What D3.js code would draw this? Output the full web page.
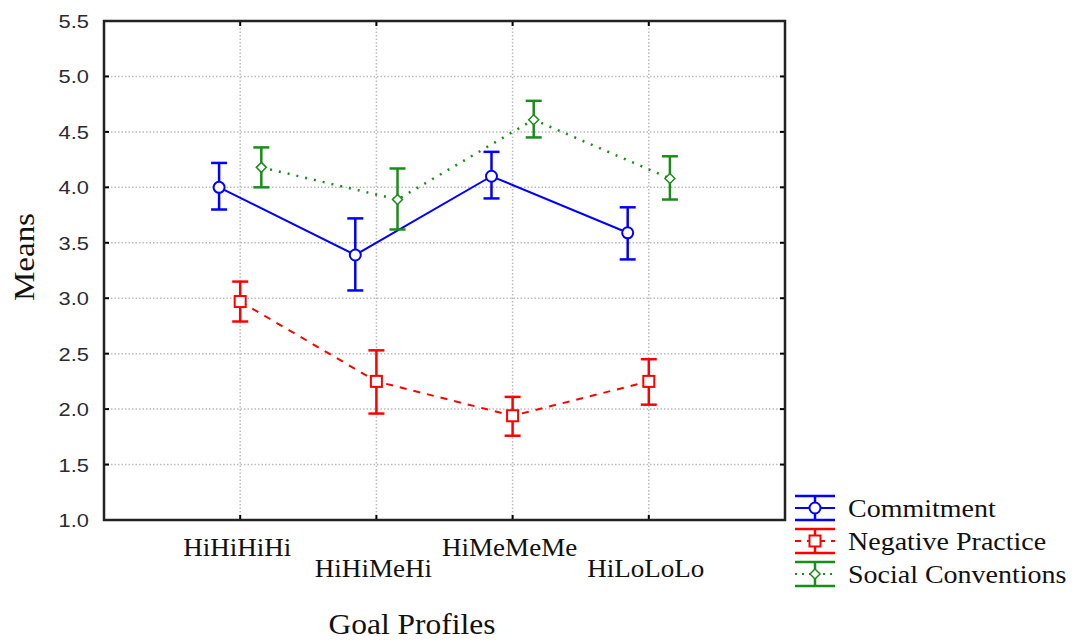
<!DOCTYPE html>
<html>
<head>
<meta charset="utf-8">
<script src="https://cdn.jsdelivr.net/npm/d3@7"></script>
<style>
  body { margin: 0; background: #fff; }
  svg { display: block; }
</style>
</head>
<body>
<svg width="1081" height="642"></svg>
<script>
const categories = ["HiHiHiHi", "HiHiMeHi", "HiMeMeMe", "HiLoLoLo"];
const seriesNames = ["Commitment", "Negative Practice", "Social Conventions"];

// means and confidence limits per category
const commitMean = [4.0, 3.39, 4.1, 3.59];
const commitLow = [3.8, 3.07, 3.9, 3.35];
const commitHigh = [4.22, 3.72, 4.32, 3.82];

const negMean = [2.97, 2.25, 1.94, 2.25];
const negLow = [2.79, 1.96, 1.76, 2.04];
const negHigh = [3.15, 2.53, 2.11, 2.45];

const socialMean = [4.18, 3.89, 4.61, 4.08];
const socialLow = [4.0, 3.62, 4.45, 3.89];
const socialHigh = [4.36, 4.17, 4.78, 4.28];

const yTicks = [1.0, 1.5, 2.0, 2.5, 3.0, 3.5, 4.0, 4.5, 5.0, 5.5];

const margin = { top: 21, right: 296, bottom: 122, left: 104 };
const width = 1081;
const height = 642;
const innerWidth = width - margin.left - margin.right;
const innerHeight = height - margin.top - margin.bottom;

const serif = "Liberation Serif, Times New Roman, serif";
const sans = "Liberation Sans, Arial, sans-serif";

const svg = d3.select("svg");

const xScale = d3.scaleLinear().domain([0, categories.length + 1]).range([0, innerWidth]);
const yScale = d3.scaleLinear().domain([1, 5.5]).range([innerHeight, 0]);
const offset = 0.155; // series shift in category units

const series = [
  { name: seriesNames[0], mean: commitMean, low: commitLow, high: commitHigh,
    color: "#0000ff", dash: null, shift: -offset, marker: "circle" },
  { name: seriesNames[1], mean: negMean, low: negLow, high: negHigh,
    color: "#ff0000", dash: "7,7", shift: 0, marker: "square" },
  { name: seriesNames[2], mean: socialMean, low: socialLow, high: socialHigh,
    color: "#1a8c1a", dash: "2,7", shift: offset, marker: "diamond" },
];

// the source image is a bit wide, so text gets stretched horizontally
function stretchText(parent, x, y, str, opts) {
  const g = parent.append("g")
    .attr("transform", `translate(${x},${y}) rotate(${opts.rotate || 0}) scale(${opts.sx || 1},1)`);
  return g.append("text")
    .attr("text-anchor", opts.anchor || "start")
    .attr("font-family", opts.family || serif)
    .attr("font-size", opts.size)
    .attr("fill", opts.fill || "#111")
    .text(str);
}

const chart = svg.append("g")
  .attr("transform", `translate(${margin.left}, ${margin.top})`);

// grid
chart.append("g")
  .selectAll("line")
  .data(yTicks.slice(1, -1))
  .enter()
  .append("line")
  .attr("x1", 0).attr("x2", innerWidth)
  .attr("y1", d => yScale(d)).attr("y2", d => yScale(d))
  .attr("stroke", "#bbb").attr("stroke-width", 1.5)
  .attr("stroke-dasharray", "1.5,2");

chart.append("g")
  .selectAll("line")
  .data(categories)
  .enter()
  .append("line")
  .attr("x1", (d, i) => xScale(i + 1)).attr("x2", (d, i) => xScale(i + 1))
  .attr("y1", 0).attr("y2", innerHeight)
  .attr("stroke", "#bbb").attr("stroke-width", 1.5)
  .attr("stroke-dasharray", "1.5,2");

// y tick labels
const yLab = chart.append("g");
yTicks.forEach(t => {
  stretchText(yLab, -15, yScale(t) + 7, d3.format(".1f")(t),
    { family: sans, size: 19, sx: 1.15, anchor: "end", fill: "#2a2a33" });
});

// inward ticks on all sides
const tickLines = chart.append("g").attr("stroke", "#000").attr("stroke-width", 2);
yTicks.slice(1, -1).forEach(t => {
  tickLines.append("line").attr("x1", 0).attr("x2", 5).attr("y1", yScale(t)).attr("y2", yScale(t));
  tickLines.append("line").attr("x1", innerWidth - 5).attr("x2", innerWidth).attr("y1", yScale(t)).attr("y2", yScale(t));
});
categories.forEach((c, i) => {
  const x = xScale(i + 1);
  tickLines.append("line").attr("x1", x).attr("x2", x).attr("y1", 0).attr("y2", 5);
  tickLines.append("line").attr("x1", x).attr("x2", x).attr("y1", innerHeight - 5).attr("y2", innerHeight);
});

chart.append("rect")
  .attr("x", 0).attr("y", 0)
  .attr("width", innerWidth).attr("height", innerHeight)
  .attr("fill", "none").attr("stroke", "#222").attr("stroke-width", 2.5);

// category labels, staggered
const xLab = chart.append("g");
categories.forEach((c, i) => {
  stretchText(xLab, xScale(i + 1) - 3, innerHeight + (i % 2 === 0 ? 36 : 57), c,
    { size: 26, sx: 1.04, anchor: "middle" });
});

stretchText(svg, 412, 634, "Goal Profiles", { size: 30, sx: 1.05, anchor: "middle" });
stretchText(svg, 34, 257, "Means", { size: 30, sx: 1.1, anchor: "middle", rotate: -90 });

function drawMarker(g, type, x, y, color) {
  if (type === "circle") {
    g.append("circle").attr("cx", x).attr("cy", y).attr("r", 5.5)
      .attr("fill", "#fff").attr("stroke", color).attr("stroke-width", 2);
  } else if (type === "square") {
    g.append("rect").attr("x", x - 5.5).attr("y", y - 5.5)
      .attr("width", 11).attr("height", 11)
      .attr("fill", "#fff").attr("stroke", color).attr("stroke-width", 2);
  } else {
    g.append("path")
      .attr("d", `M${x},${y - 5}L${x + 5},${y}L${x},${y + 5}L${x - 5},${y}Z`)
      .attr("fill", "#fff").attr("stroke", color).attr("stroke-width", 1.5);
  }
}

const line = d3.line();
const cap = 8;

for (const s of series) {
  const g = chart.append("g");
  const pts = s.mean.map((v, i) => [xScale(i + 1 + s.shift), yScale(v)]);
  g.append("path")
    .attr("d", line(pts))
    .attr("fill", "none")
    .attr("stroke", s.color)
    .attr("stroke-width", s.marker === "diamond" ? 2.5 : 2)
    .attr("stroke-dasharray", s.dash);
  s.mean.forEach((v, i) => {
    const x = xScale(i + 1 + s.shift);
    const eb = g.append("g").attr("stroke", s.color).attr("stroke-width", 2.5);
    eb.append("line").attr("x1", x).attr("x2", x)
      .attr("y1", yScale(s.low[i])).attr("y2", yScale(s.high[i]));
    eb.append("line").attr("x1", x - cap).attr("x2", x + cap)
      .attr("y1", yScale(s.low[i])).attr("y2", yScale(s.low[i]));
    eb.append("line").attr("x1", x - cap).attr("x2", x + cap)
      .attr("y1", yScale(s.high[i])).attr("y2", yScale(s.high[i]));
    drawMarker(g, s.marker, x, yScale(v), s.color);
  });
}

// legend
const legend = svg.append("g").attr("transform", "translate(795, 496)");
series.forEach((s, i) => {
  const g = legend.append("g").attr("transform", `translate(0, ${i * 33})`);
  const cx = 20, cy = 12;
  g.append("line").attr("x1", 0).attr("x2", 40).attr("y1", 0).attr("y2", 0)
    .attr("stroke", s.color).attr("stroke-width", 2.5);
  g.append("line").attr("x1", 0).attr("x2", 40).attr("y1", 24).attr("y2", 24)
    .attr("stroke", s.color).attr("stroke-width", 2.5);
  g.append("line").attr("x1", cx).attr("x2", cx).attr("y1", 0).attr("y2", 24)
    .attr("stroke", s.color).attr("stroke-width", 2.5);
  g.append("line").attr("x1", 0).attr("x2", 40).attr("y1", cy).attr("y2", cy)
    .attr("stroke", s.color).attr("stroke-width", 2)
    .attr("stroke-dasharray", s.dash ? (s.marker === "diamond" ? "2,5" : "6,6") : null);
  drawMarker(g, s.marker, cx, cy, s.color);
  stretchText(g, 53, cy + 9, s.name, { size: 25, sx: 1.12 });
});
</script>
</body>
</html>
